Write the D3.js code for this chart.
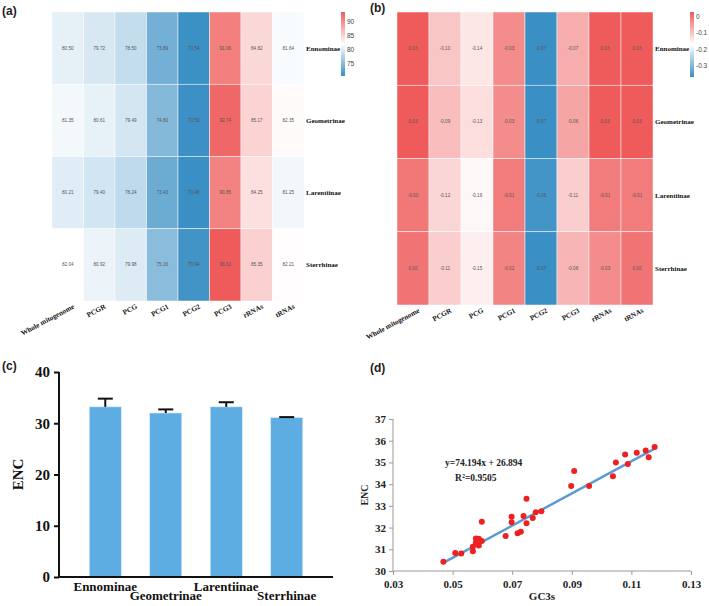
<!DOCTYPE html>
<html><head><meta charset="utf-8">
<script src="https://cdn.jsdelivr.net/npm/d3@7"></script>
<style>body{margin:0;background:#fff}svg{display:block}</style>
</head><body>
<svg id="chart" width="709" height="606"></svg>
<script>
// ---------- DATA ----------
const subfamilies = ["Ennominae", "Geometrinae", "Larentiinae", "Sterrhinae"];
const regions = ["Whole mitogenome", "PCGR", "PCG", "PCG1", "PCG2", "PCG3", "rRNAs", "tRNAs"];
const atEnnominae   = [80.50, 79.72, 78.50, 73.89, 70.54, 91.06, 84.82, 81.64];
const atGeometrinae = [81.35, 80.61, 79.49, 74.80, 70.59, 92.74, 85.17, 82.35];
const atLarentiinae = [80.21, 79.40, 78.24, 73.43, 70.48, 90.85, 84.25, 81.25];
const atSterrhinae  = [82.04, 80.92, 79.98, 75.16, 70.94, 93.61, 85.35, 82.21];
const skewEnnominae   = [0.03, -0.10, -0.14, -0.03, -0.37, -0.07, 0.03, 0.03];
const skewGeometrinae = [0.03, -0.09, -0.13, -0.03, -0.37, -0.06, 0.03, 0.03];
const skewLarentiinae = [-0.004, -0.12, -0.16, -0.01, -0.36, -0.11, -0.01, -0.01];
const skewSterrhinae  = [0.00, -0.11, -0.15, -0.02, -0.37, -0.08, -0.03, 0.00];
const atLegendTicks = [90, 85, 80, 75];
const skewLegendTicks = [0, -0.1, -0.2, -0.3];

const encMeans = [33.2, 32.0, 33.2, 31.1];
const encErrors = [1.6, 0.7, 0.9, 0.1];
const encTicks = [0, 10, 20, 30, 40];

const gc3s = [0.0469, 0.0509, 0.0529, 0.0568, 0.0568, 0.0578, 0.0578, 0.0588, 0.0588, 0.0598, 0.0598,
  0.0678, 0.0698, 0.0698, 0.0718, 0.0729, 0.0738, 0.0748, 0.0748, 0.0769, 0.0779, 0.0798,
  0.0898, 0.0908, 0.0958, 0.1038, 0.1048, 0.1079, 0.1088, 0.1118, 0.1148, 0.1158, 0.1178];
const encScatter = [30.43, 30.83, 30.81, 30.91, 31.12, 31.50, 31.30, 31.49, 31.17, 31.38, 32.27,
  31.61, 32.50, 32.24, 31.74, 31.81, 32.53, 33.33, 32.20, 32.44, 32.70, 32.75,
  33.92, 34.61, 33.92, 34.36, 35.00, 35.36, 34.93, 35.44, 35.55, 35.24, 35.71];
const gcTicks = [0.03, 0.05, 0.07, 0.09, 0.11, 0.13];
const encScatterTicks = [30, 31, 32, 33, 34, 35, 36, 37];
const regSlope = 74.194, regIntercept = 26.894;
const regRange = [0.047, 0.118];

// ---------- DRAW ----------
const svg = d3.select("#chart");
const SERIF = "'Liberation Serif', 'Times New Roman', serif";
const SANS = "'Liberation Sans', Arial, sans-serif";

function panelLabel(t, x, y) {
  svg.append("text").attr("x", x).attr("y", y).text(t)
    .attr("font-family", SANS).attr("font-weight", "bold").attr("font-size", 12).attr("fill", "#222");
}

function heatmap(rows, opts) {
  const g = svg.append("g");
  const all = rows.flat();
  const mn = d3.min(all), mx = d3.max(all);
  const color = d3.scaleLinear().domain([mn, (mn + mx) / 2, mx])
    .range(["#3a8fc4", "#ffffff", "#ef5b5b"]).interpolate(d3.interpolateRgb);
  const x = d3.scaleBand().domain(regions).range([opts.x0, opts.x1]);
  const y = d3.scaleBand().domain(subfamilies).range([opts.y0, opts.y1]);
  subfamilies.forEach((s, i) => {
    regions.forEach((r, j) => {
      const v = rows[i][j];
      g.append("rect").attr("x", x(r)).attr("y", y(s))
        .attr("width", x.bandwidth()).attr("height", y.bandwidth())
        .attr("fill", color(v)).attr("stroke", "#ffffff").attr("stroke-width", 0.6).attr("stroke-opacity", 0.8);
      g.append("text").attr("x", x(r) + x.bandwidth() / 2).attr("y", y(s) + y.bandwidth() / 2 + 1.5)
        .attr("text-anchor", "middle").attr("font-family", SANS).attr("font-size", 4.6)
        .attr("fill", "#555").text(v.toFixed(2));
    });
    g.append("text").attr("x", opts.x1 + 2).attr("y", y(s) + y.bandwidth() / 2 + 2.5)
      .attr("font-family", SERIF).attr("font-weight", "bold").attr("font-size", 7)
      .attr("fill", "#111").text(s);
  });
  regions.forEach(r => {
    g.append("text")
      .attr("transform", `translate(${x(r) + x.bandwidth() / 2 + 7},${opts.y1 + 7}) rotate(-28)`)
      .attr("text-anchor", "end").attr("font-family", SERIF).attr("font-weight", "bold")
      .attr("font-size", 7.2).attr("fill", "#111").text(r);
  });
  // legend
  const gid = "grad" + opts.id;
  const grad = svg.append("defs").append("linearGradient").attr("id", gid)
    .attr("x1", 0).attr("y1", 1).attr("x2", 0).attr("y2", 0);
  d3.range(0, 1.0001, 0.05).forEach(t => {
    grad.append("stop").attr("offset", t).attr("stop-color", color(mn + t * (mx - mn)));
  });
  const ly = d3.scaleLinear().domain([mn, mx]).range([opts.ly1, opts.ly0]);
  g.append("rect").attr("x", opts.lx).attr("y", opts.ly0).attr("width", 4)
    .attr("height", opts.ly1 - opts.ly0).attr("fill", `url(#${gid})`);
  opts.ticks.forEach(t => {
    g.append("text").attr("x", opts.lx + 6).attr("y", ly(t) + 2.3)
      .attr("font-family", SANS).attr("font-size", 6.5).attr("fill", "#444")
      .text(opts.tickFmt(t));
  });
}

heatmap([atEnnominae, atGeometrinae, atLarentiinae, atSterrhinae],
  { id: "a", x0: 52, x1: 304, y0: 12, y1: 301, lx: 341, ly0: 12, ly1: 76,
    ticks: atLegendTicks, tickFmt: d => String(d) });
heatmap([skewEnnominae, skewGeometrinae, skewLarentiinae, skewSterrhinae],
  { id: "b", x0: 397, x1: 653, y0: 12, y1: 305, lx: 690, ly0: 12, ly1: 77,
    ticks: skewLegendTicks, tickFmt: d => (d === 0 ? "0" : d.toFixed(1)) });

panelLabel("(a)", 2, 15);
panelLabel("(b)", 370, 12);

// ---------- (c) bar chart ----------
{
  const g = svg.append("g");
  const x = d3.scaleBand().domain(subfamilies).range([59, 333]).paddingInner(0.47).paddingOuter(0.5);
  const y = d3.scaleLinear().domain([0, 40]).range([577, 372]);
  g.selectAll("rect.bar").data(subfamilies).enter().append("rect")
    .attr("x", d => x(d)).attr("y", (d, i) => y(encMeans[i]))
    .attr("width", x.bandwidth()).attr("height", (d, i) => y(0) - y(encMeans[i]))
    .attr("fill", "#5dade2").attr("stroke", "#d8ecf8").attr("stroke-width", 0.6);
  subfamilies.forEach((d, i) => {
    const cx = x(d) + x.bandwidth() / 2;
    g.append("line").attr("x1", cx).attr("x2", cx)
      .attr("y1", y(encMeans[i])).attr("y2", y(encMeans[i] + encErrors[i]))
      .attr("stroke", "#111").attr("stroke-width", 2);
    g.append("line").attr("x1", cx - 7.5).attr("x2", cx + 7.5)
      .attr("y1", y(encMeans[i] + encErrors[i])).attr("y2", y(encMeans[i] + encErrors[i]))
      .attr("stroke", "#111").attr("stroke-width", 2);
    g.append("text").attr("x", cx).attr("y", i % 2 === 0 ? 591 : 600)
      .attr("text-anchor", "middle").attr("font-family", SERIF).attr("font-weight", "bold")
      .attr("font-size", 13).attr("fill", "#111").text(d);
  });
  const ya = g.append("g").attr("transform", "translate(59,0)")
    .call(d3.axisLeft(y).tickValues(encTicks).tickSize(5).tickPadding(4));
  ya.select(".domain").attr("stroke", "#111").attr("stroke-width", 2).attr("d", `M0,${y(40)}V${y(0)}`);
  ya.selectAll(".tick line").attr("stroke", "#111").attr("stroke-width", 2);
  ya.selectAll(".tick text").attr("font-family", SERIF).attr("font-weight", "bold")
    .attr("font-size", 15).attr("fill", "#111");
  g.append("line").attr("x1", 58).attr("x2", 333).attr("y1", 577).attr("y2", 577)
    .attr("stroke", "#111").attr("stroke-width", 2);
  g.append("text").attr("transform", `translate(23,${(y(0) + y(40)) / 2}) rotate(-90)`)
    .attr("text-anchor", "middle").attr("font-family", SERIF).attr("font-weight", "bold")
    .attr("font-size", 15).attr("fill", "#111").text("ENC");
}
panelLabel("(c)", 2, 370);

// ---------- (d) scatter ----------
{
  const g = svg.append("g");
  const x = d3.scaleLinear().domain([0.03, 0.13]).range([393, 691]);
  const y = d3.scaleLinear().domain([30, 37]).range([571, 419]);
  const xa = g.append("g").attr("transform", "translate(0,571)")
    .call(d3.axisBottom(x).tickValues(gcTicks).tickFormat(d3.format(".2f")).tickSize(4).tickPadding(5));
  const ya = g.append("g").attr("transform", "translate(393,0)")
    .call(d3.axisLeft(y).tickValues(encScatterTicks).tickFormat(d3.format("d")).tickSize(4).tickPadding(3));
  [xa, ya].forEach(a => {
    a.select(".domain").attr("stroke", "#999").attr("stroke-width", 1);
    a.selectAll(".tick line").attr("stroke", "#999");
    a.selectAll(".tick text").attr("font-family", SERIF).attr("font-weight", "bold")
      .attr("font-size", 11).attr("fill", "#222");
  });
  xa.select(".domain").attr("d", `M${x(0.03)},0H${x(0.13)}`);
  ya.select(".domain").attr("d", `M0,${y(37)}V${y(30)}`);
  g.append("line").attr("x1", x(regRange[0])).attr("x2", x(regRange[1]))
    .attr("y1", y(regSlope * regRange[0] + regIntercept)).attr("y2", y(regSlope * regRange[1] + regIntercept))
    .attr("stroke", "#5b9bd5").attr("stroke-width", 2.5);
  g.selectAll("circle").data(gc3s).enter().append("circle")
    .attr("cx", d => x(d)).attr("cy", (d, i) => y(encScatter[i])).attr("r", 3)
    .attr("fill", "#ee2020");
  g.append("text").attr("x", 445).attr("y", 466).attr("font-family", SERIF).attr("font-weight", "bold")
    .attr("font-size", 9.5).attr("fill", "#222").text("y=74.194x + 26.894");
  const r2 = g.append("text").attr("x", 455).attr("y", 481).attr("font-family", SERIF).attr("font-weight", "bold")
    .attr("font-size", 9.5).attr("fill", "#222");
  r2.append("tspan").text("R");
  r2.append("tspan").attr("dy", -3.5).attr("font-size", 6).text("2");
  r2.append("tspan").attr("dy", 3.5).text("=0.9505");
  g.append("text").attr("x", (x(0.03) + x(0.13)) / 2).attr("y", 600).attr("text-anchor", "middle")
    .attr("font-family", SERIF).attr("font-weight", "bold").attr("font-size", 11).attr("fill", "#222").text("GC3s");
  g.append("text").attr("transform", `translate(368,${(y(30) + y(37)) / 2}) rotate(-90)`)
    .attr("text-anchor", "middle").attr("font-family", SERIF).attr("font-weight", "bold")
    .attr("font-size", 10).attr("fill", "#222").text("ENC");
}
panelLabel("(d)", 370, 372);
</script>
</body></html>
